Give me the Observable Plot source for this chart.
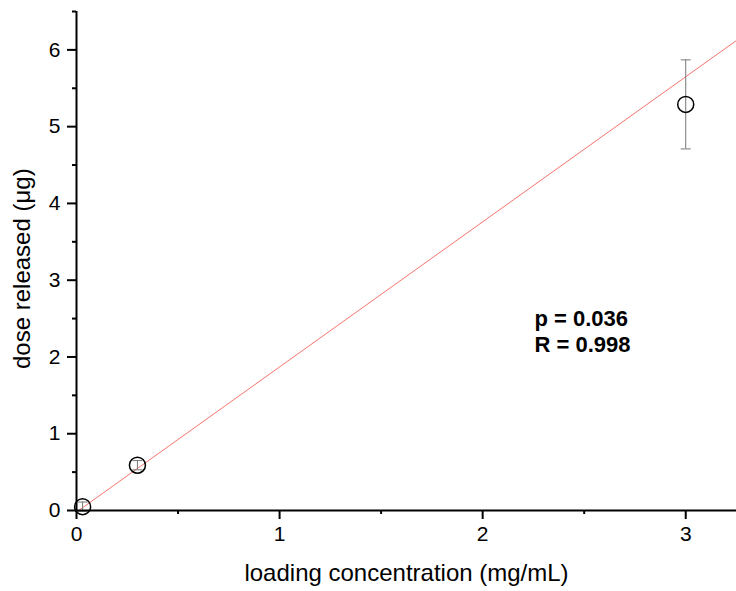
<!DOCTYPE html>
<html><head><meta charset="utf-8">
<script src="https://cdn.jsdelivr.net/npm/d3@7"></script>
<script src="https://cdn.jsdelivr.net/npm/@observablehq/plot@0.6"></script>
<style>body{margin:0;background:#fff}</style>
</head><body><div id="chart"></div>
<script>
const concentration = [0.03, 0.3, 3];
const doseReleased = [0.05, 0.59, 5.29];
const doseError = [0.06, 0.06, 0.58];
const xMajorTicks = [0, 1, 2, 3];
const xMinorTicks = [0.5, 1.5, 2.5];
const yMajorTicks = [0, 1, 2, 3, 4, 5, 6];
const yMinorTicks = [0.5, 1.5, 2.5, 3.5, 4.5, 5.5, 6.5];
const fitSlope = 1.89;
const fitIntercept = -0.02;
const xDomain = [0, 3.25];
const yDomain = [0, 6.5];
const annotationLines = ["p = 0.036", "R = 0.998"];
const annotationX = [2.255, 2.255];
const annotationY = [2.40, 2.06];
const xLabel = "loading concentration (mg/mL)";
const yLabel = "dose released (μg)";
const yLabelAt = 3.15;

const points = concentration.map((c, i) => ({x: c, y: doseReleased[i], lo: doseReleased[i] - doseError[i], hi: doseReleased[i] + doseError[i]}));
const caps = points.flatMap(p => [{x: p.x, y: p.lo}, {x: p.x, y: p.hi}]);
const fit = xDomain.map(x => ({x, y: fitIntercept + fitSlope * x}));
const notes = annotationLines.map((t, i) => ({t, x: annotationX[i], y: annotationY[i]}));
const font = "'Liberation Sans', Arial, sans-serif";
const capSymbol = {draw(ctx) { ctx.moveTo(-5, 0); ctx.lineTo(5, 0); }};

const chart = Plot.plot({
  width: 736,
  height: 591,
  marginLeft: 76,
  marginRight: 0,
  marginTop: 11,
  marginBottom: 81,
  style: {fontFamily: font, color: "#000", background: "#fff", overflow: "visible"},
  x: {type: "linear", domain: xDomain},
  y: {type: "linear", domain: yDomain},
  marks: [
    Plot.line(fit, {x: "x", y: "y", stroke: "#f4746c", strokeWidth: 1}),
    Plot.ruleX(points, {x: "x", y1: "lo", y2: "hi", stroke: "#777", strokeWidth: 1}),
    Plot.dot(caps, {x: "x", y: "y", symbol: capSymbol, stroke: "#777", strokeWidth: 1, fill: "none"}),
    Plot.axisX({ticks: xMajorTicks, tickSize: 9, tickPadding: 7, fontSize: 21, strokeWidth: 2, label: null, tickFormat: d3.format("d")}),
    Plot.axisX({ticks: xMinorTicks, tickSize: 4, strokeWidth: 2, label: null, tickFormat: () => ""}),
    Plot.axisY({ticks: yMajorTicks, tickSize: 9, tickPadding: 7, fontSize: 21, strokeWidth: 2, label: null, tickFormat: d3.format("d")}),
    Plot.axisY({ticks: yMinorTicks, tickSize: 4, strokeWidth: 2, label: null, tickFormat: () => ""}),
    Plot.ruleX([xDomain[0]], {stroke: "#000", strokeWidth: 2}),
    Plot.ruleY([yDomain[0]], {stroke: "#000", strokeWidth: 2}),
    Plot.dot(points, {x: "x", y: "y", r: 8, stroke: "#000", strokeWidth: 1.5, fill: "none"}),
    Plot.text(notes, {x: "x", y: "y", text: "t", textAnchor: "start", lineAnchor: "bottom", fontSize: 22, fontWeight: "bold", fill: "#000", style: "letter-spacing:-0.6px"}),
    Plot.text([xLabel], {frameAnchor: "bottom", dy: 70, lineAnchor: "bottom", textAnchor: "middle", fontSize: 24, fill: "#000"}),
    Plot.text([yLabel], {frameAnchor: "left", dx: -54, y: () => yLabelAt, rotate: -90, textAnchor: "middle", lineAnchor: "middle", fontSize: 24, fill: "#000"})
  ]
});
document.getElementById("chart").append(chart);
</script>
</body></html>
